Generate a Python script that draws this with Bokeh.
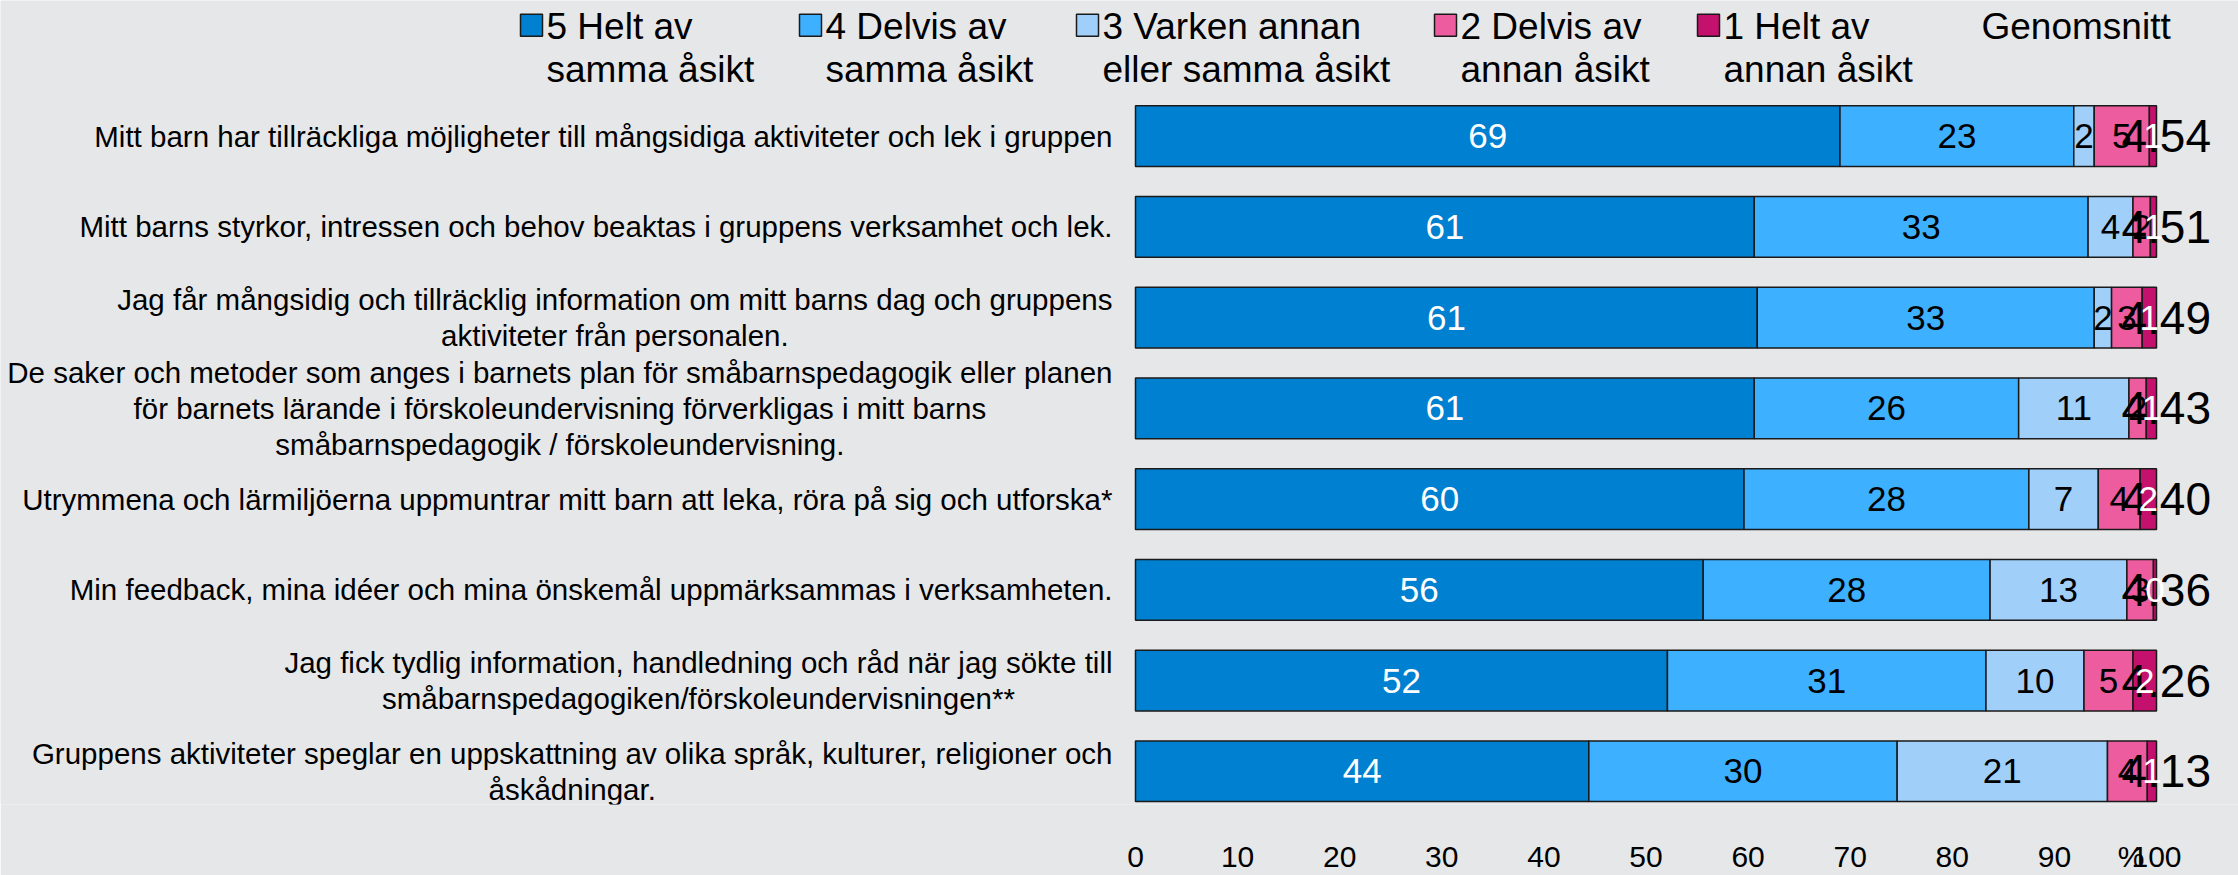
from bokeh.plotting import figure
from bokeh.models import ColumnDataSource, Range1d, FixedTicker
from bokeh.core.properties import value
from bokeh.embed import file_html
from bokeh.resources import INLINE

# ---------------- data ----------------
statements = [
    "Mitt barn har tillräckliga möjligheter till mångsidiga aktiviteter och lek i gruppen",
    "Mitt barns styrkor, intressen och behov beaktas i gruppens verksamhet och lek.",
    "Jag får mångsidig och tillräcklig information om mitt barns dag och gruppens\naktiviteter från personalen.",
    "De saker och metoder som anges i barnets plan för småbarnspedagogik eller planen\nför barnets lärande i förskoleundervisning förverkligas i mitt barns\nsmåbarnspedagogik / förskoleundervisning.",
    "Utrymmena och lärmiljöerna uppmuntrar mitt barn att leka, röra på sig och utforska*",
    "Min feedback, mina idéer och mina önskemål uppmärksammas i verksamheten.",
    "Jag fick tydlig information, handledning och råd när jag sökte till\nsmåbarnspedagogiken/förskoleundervisningen**",
    "Gruppens aktiviteter speglar en uppskattning av olika språk, kulturer, religioner och\nåskådningar.",
]
s5 = [69.0, 60.6, 60.9, 60.6, 59.6, 55.6, 52.1, 44.4]
s4 = [22.9, 32.7, 33.0, 25.9, 27.9, 28.1, 31.2, 30.2]
s3 = [2.0, 4.4, 1.7, 10.8, 6.8, 13.4, 9.6, 20.6]
s2 = [5.4, 1.7, 3.0, 1.7, 4.1, 2.6, 4.8, 3.9]
s1 = [0.7, 0.6, 1.4, 1.0, 1.6, 0.3, 2.3, 0.9]
means = [4.54, 4.51, 4.49, 4.43, 4.40, 4.36, 4.26, 4.13]

series_keys = ["s5", "s4", "s3", "s2", "s1"]
legend_labels = [
    "5 Helt av\nsamma åsikt",
    "4 Delvis av\nsamma åsikt",
    "3 Varken annan\neller samma åsikt",
    "2 Delvis av\nannan åsikt",
    "1 Helt av\nannan åsikt",
]
mean_header = "Genomsnitt"
x_ticks = [0, 10, 20, 30, 40, 50, 60, 70, 80, 90, 100]
x_unit = "%"
x_unit_pos = 97.5

colors = ["#0080D0", "#3DB0FF", "#A0D0FA", "#EC5C9E", "#C4116D"]
label_colors = ["white", "black", "black", "black", "white"]
BG = "#E6E7E9"
FONT = "Liberation Sans"

# ---------------- layout helpers (pixels -> data) ----------------
W, H = 2238, 875
X0_PX, X100_PX = 1135, 2156
PX = (X100_PX - X0_PX) / 100.0
ROW0_PX, ROW_PX = 136.5, 91.3
FRAME_H = 809


def xd(px):
    return (px - X0_PX) / PX


def yd(py):
    return (py - ROW0_PX) / ROW_PX


idx = list(range(len(statements)))
data = dict(idx=idx, stmt=statements, s5=s5, s4=s4, s3=s3, s2=s2, s1=s1,
            mean_txt=["%.2f" % m for m in means])
source = ColumnDataSource(data)

p = figure(width=W, height=H, output_backend="svg", toolbar_location=None,
           x_range=Range1d(xd(0), xd(W)), y_range=Range1d(yd(FRAME_H), yd(0)),
           min_border=0, min_border_bottom=H - FRAME_H, y_axis_location=None,
           background_fill_color=BG, border_fill_color=BG, outline_line_color=None)
p.xgrid.visible = False
p.ygrid.visible = False

p.hbar_stack(series_keys, y="idx", height=0.668, color=colors, source=source,
             line_color="#1a1a1a", line_width=1.5)

# segment labels
seg_x, seg_y, seg_t, seg_c = [], [], [], []
late_x, late_y, late_t = [], [], []
for i in idx:
    left = 0.0
    for j, k in enumerate(series_keys):
        v = data[k][i]
        mid = left + v / 2.0
        left += v
        t = str(int(round(v)))
        if j == 4:
            late_x.append(mid); late_y.append(i); late_t.append(t)
        else:
            seg_x.append(mid); seg_y.append(i); seg_t.append(t); seg_c.append(label_colors[j])

p.text(x=seg_x, y=seg_y, text=seg_t, text_color=seg_c, text_align="center",
       text_baseline="middle", text_font=value(FONT), text_font_size="35px")

# mean labels
p.text(x=100, y="idx", text="mean_txt", source=source, x_offset=-35,
       text_align="left", text_baseline="middle", text_font=value(FONT),
       text_font_size="46px", text_color="black")

p.text(x=late_x, y=late_y, text=late_t, text_color=label_colors[4], text_align="center",
       text_baseline="middle", text_font=value(FONT), text_font_size="35px")

# category labels
p.text(x=0, y="idx", text="stmt", source=source, x_offset=-23,
       anchor="center_right", text_align="center", text_baseline="middle",
       text_font=value(FONT), text_font_size="29.5px", text_line_height=1.1,
       text_color="black")

# legend (manual, two-line labels)
leg_sq_px = [531, 810, 1087, 1445, 1708]
leg_y1_px, leg_y2_px = 26, 69
p.scatter(x=[xd(v) for v in leg_sq_px], y=[yd(25)] * 5, marker="square", size=22,
          fill_color=colors, line_color="#1a1a1a", line_width=1.5)
l1 = [s.split("\n")[0] for s in legend_labels]
l2 = [s.split("\n")[1] for s in legend_labels]
p.text(x=[xd(v + 15) for v in leg_sq_px], y=[yd(leg_y1_px)] * 5, text=l1,
       text_align="left", text_baseline="middle", text_font=value(FONT),
       text_font_size="37px", text_color="black")
p.text(x=[xd(v + 15) for v in leg_sq_px], y=[yd(leg_y2_px)] * 5, text=l2,
       text_align="left", text_baseline="middle", text_font=value(FONT),
       text_font_size="37px", text_color="black")
p.text(x=[xd(1981)], y=[yd(leg_y1_px)], text=[mean_header], text_align="left",
       text_baseline="middle", text_font=value(FONT), text_font_size="37px",
       text_color="black")

# x axis (unit "%" shown as an extra label next to 100)
ax = p.xaxis[0]
ax.ticker = FixedTicker(ticks=x_ticks + [x_unit_pos])
ax.major_label_overrides = {x_unit_pos: x_unit}
ax.axis_line_color = None
ax.major_tick_line_color = None
ax.minor_tick_line_color = None
ax.major_label_standoff = 29
ax.major_label_text_font = FONT
ax.major_label_text_font_size = "30px"
ax.major_label_text_color = "black"

open("out.html", "w").write(file_html(p, INLINE))
